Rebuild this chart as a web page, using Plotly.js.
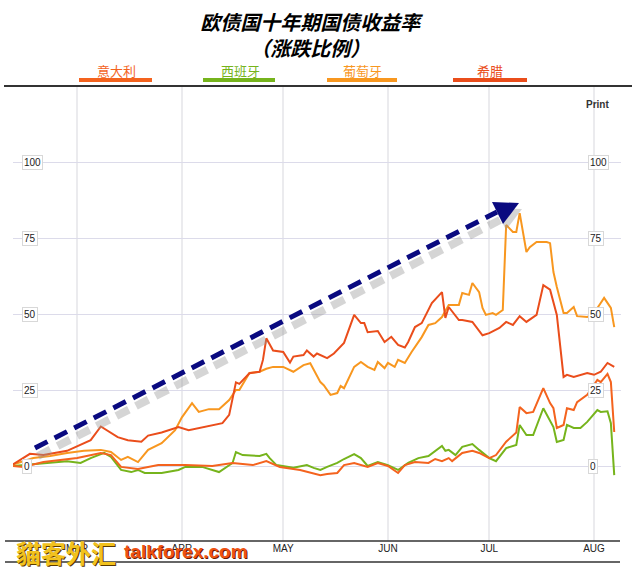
<!DOCTYPE html>
<html><head><meta charset="utf-8">
<script src="https://cdn.plot.ly/plotly-3.0.1.min.js"></script>
<style>html,body{margin:0;padding:0;background:#fff}#chart{width:637px;height:571px}</style>
</head><body><div id="chart"></div>
<script>
// ---------- data ----------
const titleText = '欧债国十年期国债收益率<br>（涨跌比例）';
const seriesNames = ['意大利', '西班牙', '葡萄牙', '希腊'];
const seriesColors = ['#f4631e', '#76b41c', '#f8971f', '#ea4d1b'];
const monthTicks = ['2011-03-01', '2011-04-01', '2011-05-01', '2011-06-01', '2011-07-01', '2011-08-01'];
const monthLabels = ['MAR', 'APR', 'MAY', 'JUN', 'JUL', 'AUG'];
const yTicks = [0, 25, 50, 75, 100];
const watermarkCn = '貓客外汇';
const watermarkEn = 'talkforex.com';

const italyDates = ['2011-02-10','2011-02-13','2011-02-19','2011-03-01','2011-03-08','2011-03-11','2011-03-14','2011-03-19','2011-03-25','2011-04-02','2011-04-10','2011-04-16','2011-04-22','2011-04-26','2011-04-30','2011-05-06','2011-05-12','2011-05-14','2011-05-17','2011-05-19','2011-05-22','2011-05-26','2011-05-29','2011-06-01','2011-06-04','2011-06-06','2011-06-09','2011-06-13','2011-06-15','2011-06-17','2011-06-19','2011-06-20','2011-06-23','2011-06-26','2011-06-28','2011-07-01','2011-07-03','2011-07-06','2011-07-09','2011-07-10','2011-07-12','2011-07-14','2011-07-17','2011-07-19','2011-07-20','2011-07-21','2011-07-23','2011-07-24','2011-07-26','2011-07-27','2011-07-30','2011-08-02','2011-08-03','2011-08-05','2011-08-06','2011-08-07'];
const italyValues = [0,-0.3,1.3,2.6,4.3,3.6,-0.3,-1,0.3,0.3,0,1,0.3,1.6,-0.3,-1.3,-3,-2.6,-2.3,0.3,1,-0.3,1,0,-2.3,0.3,1.3,1,2.3,1.6,2.6,1.6,4.3,5,4.3,2.6,3.6,8,11,19.4,17.4,17.8,25.6,20.7,19,12.5,13.5,19,18.4,21,23.4,28.3,27.6,30.3,27.6,11.2];

const spainDates = ['2011-02-10','2011-02-13','2011-02-19','2011-02-26','2011-03-02','2011-03-05','2011-03-09','2011-03-11','2011-03-14','2011-03-17','2011-03-19','2011-03-21','2011-03-26','2011-03-31','2011-04-02','2011-04-07','2011-04-12','2011-04-16','2011-04-17','2011-04-19','2011-04-24','2011-04-26','2011-04-27','2011-04-29','2011-05-04','2011-05-08','2011-05-10','2011-05-12','2011-05-14','2011-05-17','2011-05-19','2011-05-22','2011-05-24','2011-05-26','2011-05-29','2011-06-01','2011-06-04','2011-06-07','2011-06-10','2011-06-13','2011-06-17','2011-06-18','2011-06-19','2011-06-21','2011-06-23','2011-06-26','2011-06-28','2011-07-01','2011-07-03','2011-07-06','2011-07-09','2011-07-10','2011-07-12','2011-07-14','2011-07-17','2011-07-19','2011-07-20','2011-07-21','2011-07-23','2011-07-24','2011-07-26','2011-07-28','2011-07-30','2011-08-02','2011-08-03','2011-08-05','2011-08-06','2011-08-07'];
const spainValues = [0,0.3,1,1.6,1,2.6,4.3,3,-1.3,-2,-1.3,-2.3,-2.3,-1.3,-0.3,-0.3,-2,1,4.6,3.6,3.3,4,2.6,0.3,-0.6,0.3,-0.6,-1.3,-0.3,1,2.3,3.9,2.6,0,1.3,0.3,-1.3,1,2.6,3.3,6.6,5,5.3,3.6,6.3,7.2,5.3,2.6,1.6,5.9,6.9,13.5,10.2,10.2,19,14.5,12.8,7.9,8.6,13.5,12.5,12.5,14.5,18.4,17.8,18,14.1,-3];

const portugalDates = ['2011-02-10','2011-02-16','2011-02-21','2011-02-26','2011-03-03','2011-03-08','2011-03-11','2011-03-14','2011-03-16','2011-03-19','2011-03-22','2011-03-26','2011-03-30','2011-04-01','2011-04-04','2011-04-06','2011-04-09','2011-04-12','2011-04-15','2011-04-17','2011-04-18','2011-04-21','2011-04-24','2011-04-26','2011-04-28','2011-05-01','2011-05-04','2011-05-07','2011-05-09','2011-05-12','2011-05-13','2011-05-15','2011-05-17','2011-05-18','2011-05-19','2011-05-22','2011-05-24','2011-05-26','2011-05-28','2011-05-29','2011-05-31','2011-06-01','2011-06-03','2011-06-04','2011-06-06','2011-06-08','2011-06-11','2011-06-13','2011-06-15','2011-06-17','2011-06-19','2011-06-20','2011-06-22','2011-06-23','2011-06-25','2011-06-26','2011-06-28','2011-06-29','2011-06-30','2011-07-02','2011-07-03','2011-07-05','2011-07-06','2011-07-08','2011-07-09','2011-07-10','2011-07-12','2011-07-13','2011-07-15','2011-07-18','2011-07-19','2011-07-20','2011-07-21','2011-07-23','2011-07-24','2011-07-26','2011-07-27','2011-07-30','2011-08-01','2011-08-03','2011-08-04','2011-08-06','2011-08-07'];
const portugalValues = [0.5,2.6,3.3,4.3,5,5.3,4.6,2,3,1.3,5.3,7.5,11.8,16,20.7,17.8,18.7,18.7,21.7,25,25,30.6,31,32,32.6,32.6,31,33.2,33.8,27.6,26.6,23.4,24,26.3,25.6,32.6,34.2,32.6,31.6,34.2,32.2,33.9,32.6,34.9,33.9,37.5,42.4,46.4,47,49,53,53,53,56.9,56.3,60.2,57.2,52,49.7,50.3,49.7,51.3,79.3,77,77,83.2,70.4,72,73.7,73.7,73.3,63.8,58.9,50.3,50.3,52.3,49.3,49,50.3,53.6,55.3,52,45.7];

const greeceDates = ['2011-02-10','2011-02-15','2011-02-19','2011-02-26','2011-03-05','2011-03-08','2011-03-13','2011-03-16','2011-03-20','2011-03-22','2011-03-26','2011-03-31','2011-04-03','2011-04-07','2011-04-10','2011-04-13','2011-04-15','2011-04-17','2011-04-18','2011-04-21','2011-04-24','2011-04-25','2011-04-26','2011-04-28','2011-05-01','2011-05-03','2011-05-04','2011-05-07','2011-05-08','2011-05-10','2011-05-11','2011-05-14','2011-05-16','2011-05-19','2011-05-22','2011-05-24','2011-05-25','2011-05-26','2011-05-29','2011-05-31','2011-06-02','2011-06-04','2011-06-06','2011-06-07','2011-06-09','2011-06-11','2011-06-14','2011-06-17','2011-06-18','2011-06-19','2011-06-22','2011-06-23','2011-06-26','2011-06-29','2011-07-01','2011-07-04','2011-07-06','2011-07-08','2011-07-10','2011-07-12','2011-07-15','2011-07-17','2011-07-19','2011-07-21','2011-07-23','2011-07-24','2011-07-26','2011-07-30','2011-08-01','2011-08-03','2011-08-05','2011-08-07'];
const greeceValues = [0.5,4,3.6,5,8.5,13,9.5,8.5,8,10,11,12.8,11.8,12.8,13.5,14.1,16.8,27.5,27,30.5,31,34.9,42,38,37.5,34,36,36.5,38,36,37,35.5,37,40.5,49.7,47,47,44,44.4,40.8,42.5,39.8,39,40.8,45.7,47,53.6,57.2,48.7,52.3,48,48,47.4,43,43.7,45.4,47.4,46.4,49.3,47.4,49.7,59.5,58,49.7,29.3,30,29.3,30.6,30,31,33.9,32.6];

const allDates = [italyDates, spainDates, portugalDates, greeceDates];
const allValues = [italyValues, spainValues, portugalValues, greeceValues];

// ---------- geometry helpers (layout only) ----------
const L = 13, R = 621, T = 87, B = 541, W = 637, H = 571;
const px = x => (x - L) / (R - L);
const py = y => (B - y) / (B - T);

const traces = [1, 0, 2, 3].map(i => ({
  type: 'scatter', mode: 'lines', name: seriesNames[i],
  x: allDates[i], y: allValues[i],
  line: {color: seriesColors[i], width: 2},
  hoverinfo: 'skip'
}));

const legendCenters = [116, 240, 362, 490];
const legendBars = [[79, 152], [203, 275], [327, 397], [453, 527]];

const annotations = [];
const shapes = [];

seriesNames.forEach((n, i) => {
  annotations.push({xref: 'paper', yref: 'paper', x: px(legendCenters[i]), y: py(71),
    text: n, showarrow: false, xanchor: 'center', yanchor: 'middle',
    font: {family: 'Noto Sans CJK SC', size: 13, color: seriesColors[i]}});
  shapes.push({type: 'rect', xref: 'paper', yref: 'paper', x0: px(legendBars[i][0]), x1: px(legendBars[i][1]),
    y0: py(82), y1: py(78), line: {width: 0}, fillcolor: seriesColors[i]});
});

yTicks.forEach(v => {
  [22, 588].forEach(xp => {
    annotations.push({xref: 'paper', yref: 'y', x: px(xp), y: v, text: String(v), showarrow: false,
      xanchor: 'left', yanchor: 'middle', bgcolor: '#ffffff', bordercolor: '#d8d8d8', borderwidth: 1, borderpad: 1,
      font: {family: 'Liberation Sans, Arial, sans-serif', size: 10, color: '#222'}});
  });
});

annotations.push({xref: 'paper', yref: 'paper', x: px(597), y: py(105), text: '<b>Print</b>', showarrow: false,
  xanchor: 'center', yanchor: 'middle', font: {family: 'Liberation Sans, Arial, sans-serif', size: 10, color: '#333'}});

annotations.push({xref: 'paper', yref: 'paper', x: px(66), y: py(552), text: '<b>' + watermarkCn + '</b>', showarrow: false,
  xanchor: 'center', yanchor: 'middle',
  font: {family: 'Noto Sans CJK TC', size: 25, color: '#f2c21e', shadow: '1px 1px 0 #5a3a00'}});
annotations.push({xref: 'paper', yref: 'paper', x: px(186), y: py(551), text: '<b>' + watermarkEn + '</b>', showarrow: false,
  xanchor: 'center', yanchor: 'middle',
  font: {family: 'Liberation Sans, Arial, sans-serif', size: 19, color: '#ee5212', shadow: '1px 1px 0 #6a1a00'}});

// frame lines
shapes.push({type: 'line', xref: 'paper', yref: 'paper', x0: px(4), x1: px(632), y0: py(86), y1: py(86), line: {color: '#333', width: 2}});
shapes.push({type: 'line', xref: 'paper', yref: 'paper', x0: px(5), x1: px(620), y0: py(541), y1: py(541), line: {color: '#333', width: 1.5}});
shapes.push({type: 'line', xref: 'paper', yref: 'paper', x0: px(5), x1: px(620), y0: py(562), y1: py(562), line: {color: '#333', width: 1.5}});

// arrow (shadow + dashed line + head)
shapes.push({type: 'line', xref: 'paper', yref: 'paper', x0: px(38), y0: py(456), x1: px(500), y1: py(220),
  line: {color: 'rgba(150,150,150,0.4)', width: 8, dash: '14px,8px'}});
shapes.push({type: 'path', xref: 'paper', yref: 'paper',
  path: `M${px(495)},${py(208)} L${px(522)},${py(209)} L${px(506)},${py(230)} Z`,
  fillcolor: 'rgba(150,150,150,0.4)', line: {width: 0}});
shapes.push({type: 'line', xref: 'paper', yref: 'paper', x0: px(35), y0: py(448), x1: px(497), y1: py(212),
  line: {color: '#0a0a80', width: 5, dash: '14px,8px'}});
shapes.push({type: 'path', xref: 'paper', yref: 'paper',
  path: `M${px(492)},${py(202)} L${px(519)},${py(203)} L${px(503)},${py(224)} Z`,
  fillcolor: '#0a0a80', line: {width: 0}});

const layout = {
  width: W, height: H,
  margin: {l: L, r: W - R, t: T, b: H - B, pad: 0},
  paper_bgcolor: '#ffffff', plot_bgcolor: '#ffffff',
  showlegend: false,
  title: {text: titleText, x: 0.487, xref: 'container', xanchor: 'center', y: 1 - 30 / H, yref: 'container', yanchor: 'middle',
    font: {family: 'Noto Sans CJK SC', size: 20, color: '#000', style: 'italic', weight: 'bold'}},
  xaxis: {type: 'date', range: ['2011-02-10', '2011-08-09'], tickvals: monthTicks, ticktext: monthLabels,
    showgrid: true, gridcolor: '#ebebee', gridwidth: 2, zeroline: false, showline: false, ticks: '',
    tickfont: {family: 'Liberation Sans, Arial, sans-serif', size: 10, color: '#222'}},
  yaxis: {range: [-24.67, 124.67], tickvals: yTicks, showticklabels: false, showgrid: true,
    gridcolor: '#dcdbea', gridwidth: 1, zeroline: false, showline: false, ticks: ''},
  annotations: annotations,
  shapes: shapes
};

Plotly.newPlot('chart', traces, layout, {displayModeBar: false, staticPlot: true});
</script></body></html>
